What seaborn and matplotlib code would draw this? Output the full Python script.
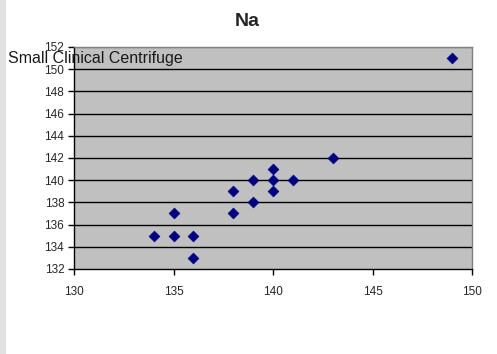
import matplotlib
matplotlib.use("Agg")
import matplotlib.pyplot as plt
import seaborn as sns
import pandas as pd
from matplotlib.patches import Rectangle

x_vals = [134, 135, 135, 136, 136, 138, 138, 139, 139, 140, 140, 140, 141, 143, 149]
y_vals = [135, 135, 137, 135, 133, 137, 139, 138, 140, 141, 140, 139, 140, 142, 151]
x_ticks = [130, 135, 140, 145, 150]
y_ticks = [132, 134, 136, 138, 140, 142, 144, 146, 148, 150, 152]
title = "Na"
series_label = "Small Clinical Centrifuge"

sns.set_style("white")
plt.rcParams['font.family'] = ['Liberation Sans', 'DejaVu Sans']

df = pd.DataFrame({"x": x_vals, "y": y_vals})

fig = plt.figure(figsize=(4.97, 3.54), dpi=100)
fig.patch.set_facecolor("white")
fig.patches.append(Rectangle((0, 0), 6/497, 1, transform=fig.transFigure,
                             facecolor="#e0e0e0", edgecolor="none", zorder=0))
ax = fig.add_axes([74/497, 1-269/354, (472-74)/497, (269-47)/354])
ax.set_facecolor("#c0c0c0")

sns.scatterplot(data=df, x="x", y="y", ax=ax, marker="D", s=30,
                color="#000080", edgecolor="#000080", linewidth=0.5, zorder=3)

ax.set_xlim(130, 150)
ax.set_ylim(132, 152)
ax.set_xticks(x_ticks)
ax.set_yticks(y_ticks)
ax.set_xticklabels([str(v) for v in x_ticks], fontsize=8.5)
ax.set_yticklabels([str(v) for v in y_ticks], fontsize=8.5)
ax.set_xlabel("")
ax.set_ylabel("")
for v in y_ticks[1:-1]:
    ax.axhline(v, color="black", linewidth=1.0, zorder=1)
ax.axhline(152, color="#808080", linewidth=1.0, zorder=1)

for s in ["left", "bottom"]:
    ax.spines[s].set_color("black")
    ax.spines[s].set_linewidth(1.0)
for s in ["top", "right"]:
    ax.spines[s].set_color("#808080")
    ax.spines[s].set_linewidth(1.0)

ax.tick_params(axis="both", direction="out", length=4, width=1, color="black",
               left=True, bottom=True, pad=3)
ax.tick_params(axis="x", pad=8)

fig.text(247/497, 1-22/354, title, ha="center", va="center",
         fontsize=14, fontweight="bold")
fig.text(8/497, 1-58/354, series_label, ha="left", va="center", fontsize=11.5,
         color="#1a1a1a")

fig.savefig("out.png", dpi=100)
